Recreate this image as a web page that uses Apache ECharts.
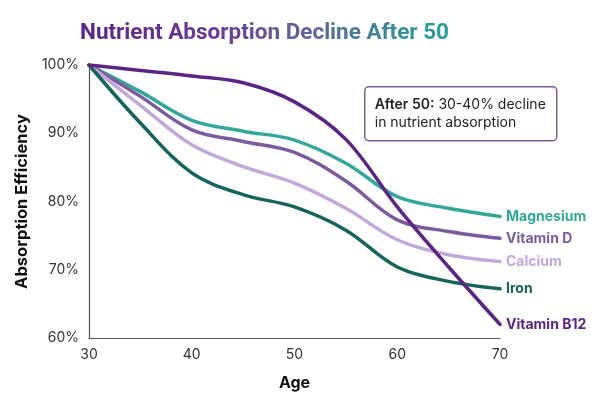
<!DOCTYPE html>
<html><head><meta charset="utf-8">
<script src="https://cdn.jsdelivr.net/npm/echarts@6/dist/echarts.min.js"></script>
<style>html,body{margin:0;padding:0;background:#fff}#c{width:600px;height:401px}</style>
</head><body><div id="c"></div>
<script>
var ages = [30, 35, 40, 45, 50, 55, 60, 65, 70];
var magnesium = [100, 96.1, 91.9, 90.3, 89.0, 85.6, 80.7, 79.0, 77.8];
var vitaminD = [100, 95.4, 90.5, 88.8, 87.2, 83.0, 77.3, 75.6, 74.6];
var calcium = [100, 94.1, 88.3, 85.1, 82.7, 79.0, 74.4, 72.2, 71.2];
var iron = [100, 91.5, 84.2, 81.0, 79.2, 75.8, 70.4, 68.3, 67.2];
var vitaminB12 = [100, 99.2, 98.4, 97.4, 94.6, 89.1, 79.2, 70.4, 62.0];
var yTicks = [60, 70, 80, 90, 100];
var xTicks = [30, 40, 50, 60, 70];
var titleText = 'Nutrient Absorption Decline After 50';

var FONT = 'Inter, "Liberation Sans", sans-serif';
var TFONT = 'Roboto, Inter, sans-serif';

// per-character gradient colouring of the title
var stops = [[0, [90, 39, 133]], [0.35, [106, 56, 150]], [0.55, [102, 90, 152]], [0.75, [74, 122, 149]], [1, [42, 160, 150]]];
function colAt(t){
  for (var i = 1; i < stops.length; i++) {
    if (t <= stops[i][0]) {
      var a = stops[i-1], b = stops[i], f = (t - a[0]) / (b[0] - a[0]);
      return 'rgb(' + [0,1,2].map(function(k){ return Math.round(a[1][k] + (b[1][k]-a[1][k]) * f); }).join(',') + ')';
    }
  }
  return 'rgb(42,160,150)';
}
var rich = {}, parts = [];
for (var i = 0; i < titleText.length; i++) {
  var key = 'c' + i;
  rich[key] = {color: colAt(i / (titleText.length - 1)), fontFamily: TFONT, fontWeight: 'bold', fontSize: 22.5};
  parts.push('{' + key + '|' + titleText[i] + '}');
}

function pairs(vals){ return ages.map(function(a,i){ return [a, vals[i]]; }); }
function mk(name, vals, color){
  return {
    name: name, type: 'line', data: pairs(vals), smooth: 0.35, symbol: 'none',
    lineStyle: {color: color, width: 3.5, cap: 'round'},
    itemStyle: {color: color},
    endLabel: {show: true, formatter: '{a}', color: color, fontFamily: FONT,
      fontWeight: 'bold', fontSize: 14, distance: 6},
    z: 3
  };
}
var chart = echarts.init(document.getElementById('c'), null, {renderer: 'canvas'});
chart.setOption({
  backgroundColor: '#ffffff',
  animation: false,
  title: {
    text: parts.join(''), left: 75, top: 17,
    textStyle: {rich: rich, fontFamily: TFONT, fontWeight: 'bold', fontSize: 22.5}
  },
  grid: {left: 89, right: 100, top: 65, bottom: 63},
  xAxis: {
    type: 'value', min: xTicks[0], max: xTicks[xTicks.length-1], interval: 10,
    name: 'Age', nameLocation: 'middle', nameGap: 37,
    nameTextStyle: {fontFamily: FONT, fontWeight: 'bold', fontSize: 16, color: '#111'},
    axisLine: {show: true, lineStyle: {color: '#555', width: 1.2}},
    axisTick: {show: false}, splitLine: {show: false},
    axisLabel: {fontFamily: FONT, fontSize: 14, color: '#333', margin: 10}
  },
  yAxis: {
    type: 'value', min: yTicks[0], max: yTicks[yTicks.length-1], interval: 10,
    name: 'Absorption Efficiency', nameLocation: 'middle', nameGap: 48, nameRotate: 90,
    nameTextStyle: {fontFamily: FONT, fontWeight: 'bold', fontSize: 16.5, color: '#111'},
    axisLine: {show: true, lineStyle: {color: '#555', width: 1.2}},
    axisTick: {show: false}, splitLine: {show: false},
    axisLabel: {fontFamily: FONT, fontSize: 14, color: '#333', margin: 10, formatter: '{value}%'}
  },
  series: [
    mk('Magnesium', magnesium, '#35a69a'),
    mk('Vitamin D', vitaminD, '#7c5a9e'),
    mk('Calcium', calcium, '#c2a8d8'),
    mk('Iron', iron, '#17645f'),
    mk('Vitamin B12', vitaminB12, '#5a2583')
  ],
  graphic: [
    {
      type: 'group', left: 364, top: 86, z: 10,
      children: [
        {type: 'rect', shape: {x: 0, y: 0, width: 192, height: 54, r: 4},
          style: {fill: '#fff', stroke: '#7c5a9e', lineWidth: 1.5}},
        {type: 'text', left: 10, top: 9, style: {
          text: '{b|After 50:} 30-40% decline\nin nutrient absorption',
          font: '14px ' + FONT, fill: '#222', lineHeight: 18,
          rich: {b: {fontWeight: 600, fontFamily: FONT, fontSize: 14, fill: '#222'}}
        }}
      ]
    }
  ]
});
</script></body></html>
